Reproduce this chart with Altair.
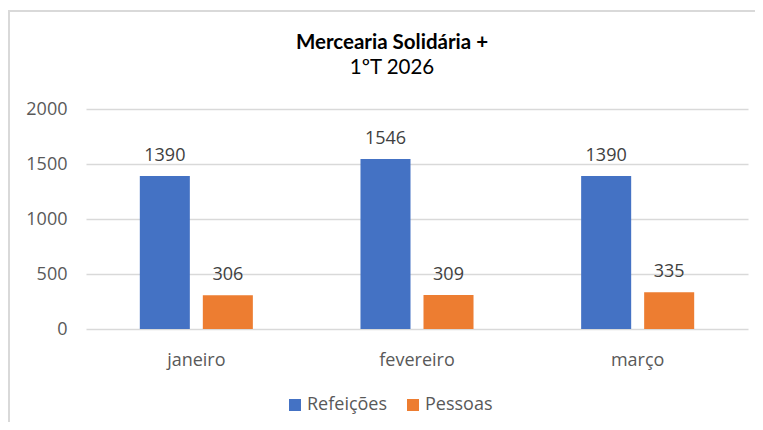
import altair as alt
import pandas as pd

months = ["janeiro", "fevereiro", "março"]
series = ["Refeições", "Pessoas"]
refeicoes = [1390, 1546, 1390]
pessoas = [306, 309, 335]
y_ticks = [0, 500, 1000, 1500, 2000]
colors = ["#4472C4", "#ED7D31"]
title_text = "Mercearia Solidária +"
subtitle_text = "1ºT 2026"

rows = []
for m, r, p in zip(months, refeicoes, pessoas):
    rows.append({"mes": m, "serie": series[0], "valor": r})
    rows.append({"mes": m, "serie": series[1], "valor": p})
df = pd.DataFrame(rows)

FONT = "Open Sans"
TITLE_FONT = "Lato"

base = alt.Chart(df)

x_enc = alt.X("mes:N", sort=months, title=None,
              scale=alt.Scale(paddingInner=0, paddingOuter=0),
              axis=alt.Axis(labelAngle=0, domain=False, ticks=False,
                            labelFont=FONT, labelFontSize=18, labelColor="#595959",
                            labelBaseline="alphabetic", labelPadding=36))
xo_enc = alt.XOffset("serie:N", sort=series,
                     scale=alt.Scale(paddingInner=0.206, paddingOuter=0.854))
y_enc = alt.Y("valor:Q", title=None,
              scale=alt.Scale(domain=[0, 2000]),
              axis=alt.Axis(values=y_ticks, format="d", domain=False, ticks=False,
                            labelFont=FONT, labelFontSize=18, labelColor="#595959",
                            labelPadding=19, gridColor="#D9D9D9", gridWidth=1.5))

bars = base.mark_bar().encode(
    x=x_enc, xOffset=xo_enc, y=y_enc,
    color=alt.Color("serie:N", sort=series,
                    scale=alt.Scale(domain=series, range=colors),
                    legend=alt.Legend(title=None, orient="none", direction="horizontal",
                                      legendX=200, legendY=287,
                                      symbolType="square", symbolSize=144,
                                      symbolStrokeWidth=0,
                                      labelFont=FONT, labelFontSize=18,
                                      labelColor="#595959", labelOffset=3,
                                      columnPadding=16, padding=0)),
)

labels = base.mark_text(baseline="alphabetic", dy=-15, font=FONT, fontSize=18,
                        color="#404040").encode(
    x=alt.X("mes:N", sort=months),
    xOffset=alt.XOffset("serie:N", sort=series),
    y="valor:Q",
    text="valor:Q",
)

one = pd.DataFrame({"a": [0]})

frame = alt.Chart(one).mark_rect(
    fill=None, stroke="#D9D9D9", strokeWidth=2
).encode(
    x=alt.value(-77), x2=alt.value(720), y=alt.value(-98), y2=alt.value(400)
)

title_mark = alt.Chart(one).mark_text(
    text=title_text, font=TITLE_FONT, fontSize=20.5, fontWeight="bold",
    color="#000000", baseline="alphabetic", align="center"
).encode(x=alt.value(306), y=alt.value(-60))

subtitle_mark = alt.Chart(one).mark_text(
    text=subtitle_text, font=TITLE_FONT, fontSize=20.5,
    color="#000000", baseline="alphabetic", align="center"
).encode(x=alt.value(306), y=alt.value(-35))

chart = alt.layer(frame, bars, labels, title_mark, subtitle_mark).properties(
    width=662, height=220,
    background="white",
    autosize=alt.AutoSizeParams(type="none"),
    padding={"left": 78, "top": 101, "right": 7, "bottom": 93},
).configure_view(strokeWidth=0, stroke=None)

chart.save("out.html", embed_options={"renderer": "svg", "actions": False})
